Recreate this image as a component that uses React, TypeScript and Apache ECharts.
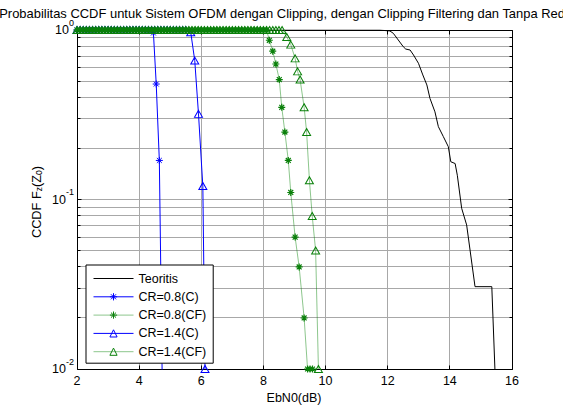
import React, { useEffect, useRef } from "react";
import * as echarts from "echarts";

const FONT = '"Liberation Sans", Arial, Helvetica, sans-serif';

// x values of the flat (CCDF = 1) part shared by the simulated curves
const topGrid = [
  2.0, 2.1, 2.2, 2.3, 2.4, 2.5, 2.6, 2.7, 2.8, 2.9,
  3.0, 3.1, 3.2, 3.3, 3.4, 3.5, 3.6, 3.7, 3.8, 3.9,
  4.0, 4.1, 4.2, 4.3, 4.4, 4.5, 4.6, 4.7, 4.8, 4.9,
  5.0, 5.1, 5.2, 5.3, 5.4, 5.5, 5.6, 5.7, 5.8, 5.9,
  6.0, 6.1, 6.2, 6.3, 6.4, 6.5, 6.6, 6.7, 6.8, 6.9,
  7.0, 7.1, 7.2, 7.3, 7.4, 7.5, 7.6, 7.7, 7.8, 7.9,
  8.0, 8.1, 8.2, 8.3, 8.4, 8.5, 8.6,
];

const seriesNames = ["Teoritis", "CR=0.8(C)", "CR=0.8(CF)", "CR=1.4(C)", "CR=1.4(CF)"];

const teoritis: [number, number][] = [
  [2, 1], [11.75, 1], [11.85, 0.995], [12.07, 0.987], [12.18, 0.956], [12.34, 0.873],
  [12.5, 0.797], [12.58, 0.772], [12.72, 0.762], [12.83, 0.712], [12.99, 0.636],
  [13.13, 0.543], [13.26, 0.474], [13.36, 0.395], [13.52, 0.329], [13.63, 0.269],
  [13.79, 0.235], [13.95, 0.205], [14.03, 0.167], [14.17, 0.163], [14.24, 0.139],
  [14.38, 0.0887], [14.54, 0.0708], [14.81, 0.0306], [15.35, 0.0306], [15.45, 0.01],
];

const cr08cFlatEnd = 4.4;
const cr08cDrop: [number, number][] = [[4.46, 0.96], [4.55, 0.48], [4.65, 0.17], [4.76, 0.005]];

const cr08cfFlatEnd = 8.1;
const cr08cfDrop: [number, number][] = [
  [8.19, 0.87], [8.3, 0.75], [8.4, 0.63], [8.51, 0.51], [8.59, 0.35], [8.69, 0.25],
  [8.8, 0.17], [8.88, 0.11], [9.02, 0.06], [9.15, 0.04], [9.31, 0.02], [9.42, 0.01],
  [9.5, 0.01], [9.58, 0.01],
];

const cr14cFlatEnd = 5.5;
const cr14cDrop: [number, number][] = [[5.66, 0.97], [5.79, 0.66], [5.91, 0.32], [6.05, 0.12], [6.12, 0.01]];

const cr14cfFlatEnd = 8.6;
const cr14cfDrop: [number, number][] = [
  [8.75, 0.91], [8.88, 0.82], [9.02, 0.68], [9.1, 0.57], [9.18, 0.51], [9.31, 0.35],
  [9.39, 0.25], [9.48, 0.13], [9.57, 0.08], [9.68, 0.05], [9.77, 0.01],
];

const xTicks = [2, 4, 6, 8, 10, 12, 14, 16];
const xGridLines = [4, 6, 8, 10, 12, 14];
const yMajor = [0.01, 0.1, 1];
const yMinor = [0.02, 0.03, 0.04, 0.05, 0.06, 0.07, 0.08, 0.09, 0.2, 0.3, 0.4, 0.5, 0.6, 0.7, 0.8, 0.9];

const titleText = "Probabilitas CCDF untuk Sistem OFDM dengan Clipping, dengan Clipping Filtering dan Tanpa Reduksi";

const withFlat = (end: number, drop: [number, number][]) =>
  [...topGrid.filter((x) => x <= end + 1e-9).map((x) => [x, 1]), ...drop];

const STAR = "path://M4,0L4,8M0,4L8,4M1.2,1.2L6.8,6.8M1.2,6.8L6.8,1.2";

export default function App() {
  const ref = useRef<HTMLDivElement>(null);
  useEffect(() => {
    document.body.style.margin = "0";
    const chart = echarts.init(ref.current!, null, { renderer: "svg" });
    const crisp = (v: number) => Math.round(v - 0.5) + 0.5;
    const gridColor = "#a8a8a8";
    const hollow = (c: string) => ({ color: "transparent", borderColor: c, borderWidth: 1 });

    const option: any = {
      animation: false,
      backgroundColor: "#fff",
      textStyle: { fontFamily: FONT },
      grid: { left: 77, right: 51, top: 30, bottom: 39, outerBoundsMode: "none", containLabel: false },
      legend: {
        data: [
          { name: seriesNames[0], itemStyle: { opacity: 0 } },
          { name: seriesNames[1], itemStyle: hollow("#0000ff") },
          { name: seriesNames[2], itemStyle: hollow("#0a800a") },
          { name: seriesNames[3], itemStyle: hollow("#0000ff") },
          { name: seriesNames[4], itemStyle: hollow("#0a800a") },
        ],
        orient: "vertical",
        left: 86,
        top: 265,
        itemWidth: 40,
        itemHeight: 9,
        itemGap: 5.3,
        padding: [7, 7, 5, 7],
        lineStyle: { width: 1 },
        backgroundColor: "#fff",
        borderColor: "#000",
        borderWidth: 1,
        borderRadius: 0,
        selectedMode: false,
        textStyle: { fontSize: 12.5, color: "#000", fontFamily: FONT },
        z: 10,
      },
      xAxis: {
        type: "value",
        min: 2,
        max: 16,
        interval: 2,
        axisLine: { show: false },
        axisTick: { show: false },
        splitLine: { show: false },
        axisLabel: { color: "#000", fontSize: 12.5, fontFamily: FONT, margin: 5 },
      },
      yAxis: {
        type: "log",
        logBase: 10,
        min: 0.01,
        max: 1,
        axisLine: { show: false },
        axisTick: { show: false },
        splitLine: { show: false },
        axisLabel: {
          margin: 3,
          formatter: (v: number) => `{b|10}{s|${Math.round(Math.log10(v))}}`,
          rich: {
            b: { fontSize: 12.5, lineHeight: 13, color: "#000", fontFamily: FONT },
            s: { fontSize: 9, lineHeight: 9, padding: [0, 0, 15, 0], color: "#000", fontFamily: FONT },
          },
        },
      },
      graphic: [
        {
          type: "text",
          x: 293.6,
          y: 13,
          style: { text: titleText, fontSize: 12.95, fontFamily: FONT, fill: "#000", align: "center", verticalAlign: "middle" },
        },
        {
          type: "text",
          x: 294,
          y: 398,
          style: { text: "EbN0(dB)", fontSize: 12.5, fontFamily: FONT, fill: "#000", align: "center", verticalAlign: "middle" },
        },
        {
          type: "text",
          x: 36,
          y: 202,
          rotation: Math.PI / 2,
          style: {
            text: "{n|CCDF F}{s|z}{n|(Z}{s|0}{n|)}",
            align: "center",
            verticalAlign: "middle",
            rich: {
              n: { fontSize: 12.8, lineHeight: 14, fill: "#000", fontFamily: FONT },
              s: { fontSize: 8.5, lineHeight: 8, padding: [6, 0, 0, 0], fill: "#000", fontFamily: FONT },
            },
          },
        },
      ],
      series: [
        {
          type: "custom",
          silent: true,
          z: 1,
          data: [[2, 1]],
          renderItem: (params: any, api: any) => {
            const cs = params.coordSys;
            const L = crisp(cs.x), T = crisp(cs.y), R = crisp(cs.x + cs.width), B = crisp(cs.y + cs.height);
            const ch: any[] = [];
            for (const v of [...yMinor, 0.1]) {
              const y = crisp(api.coord([2, v])[1]);
              ch.push({ type: "line", shape: { x1: L, y1: y, x2: R, y2: y }, style: { stroke: gridColor, lineWidth: 1 } });
            }
            for (const v of xGridLines) {
              const x = crisp(api.coord([v, 1])[0]);
              ch.push({ type: "line", shape: { x1: x, y1: T, x2: x, y2: B }, style: { stroke: gridColor, lineWidth: 1 } });
            }
            for (const v of xTicks) {
              const x = crisp(api.coord([v, 1])[0]);
              ch.push({ type: "line", shape: { x1: x, y1: B, x2: x, y2: B - 4 }, style: { stroke: "#000", lineWidth: 1 } });
              ch.push({ type: "line", shape: { x1: x, y1: T, x2: x, y2: T + 4 }, style: { stroke: "#000", lineWidth: 1 } });
            }
            for (const v of [...yMajor, ...yMinor]) {
              const y = crisp(api.coord([2, v])[1]);
              const len = yMajor.includes(v) ? 4 : 3;
              ch.push({ type: "line", shape: { x1: L, y1: y, x2: L + len, y2: y }, style: { stroke: "#000", lineWidth: 1 } });
              ch.push({ type: "line", shape: { x1: R, y1: y, x2: R - len, y2: y }, style: { stroke: "#000", lineWidth: 1 } });
            }
            ch.push({ type: "rect", shape: { x: L, y: T, width: R - L, height: B - T }, style: { fill: "none", stroke: "#000", lineWidth: 1 } });
            return { type: "group", children: ch };
          },
        },
        {
          name: seriesNames[0],
          type: "line",
          z: 2,
          data: teoritis,
          symbol: "none",
          lineStyle: { color: "#000", width: 1 },
          itemStyle: { color: "#000" },
        },
        {
          name: seriesNames[1],
          type: "line",
          z: 3,
          data: withFlat(cr08cFlatEnd, cr08cDrop),
          symbol: STAR,
          symbolSize: 7,
          lineStyle: { color: "#0000ff", width: 1 },
          itemStyle: hollow("#0000ff"),
        },
        {
          name: seriesNames[2],
          type: "line",
          z: 4,
          data: withFlat(cr08cfFlatEnd, cr08cfDrop),
          symbol: STAR,
          symbolSize: 7,
          lineStyle: { color: "#008000", width: 1, opacity: 0.45 },
          itemStyle: { color: "transparent", borderColor: "#0a800a", borderWidth: 1.2 },
        },
        {
          name: seriesNames[3],
          type: "line",
          z: 3,
          data: withFlat(cr14cFlatEnd, cr14cDrop),
          symbol: "triangle",
          symbolSize: [8, 7],
          lineStyle: { color: "#0000ff", width: 1 },
          itemStyle: hollow("#0000ff"),
        },
        {
          name: seriesNames[4],
          type: "line",
          z: 4,
          data: withFlat(cr14cfFlatEnd, cr14cfDrop),
          symbol: "triangle",
          symbolSize: [8, 7],
          lineStyle: { color: "#008000", width: 1, opacity: 0.45 },
          itemStyle: hollow("#0a800a"),
        },
      ],
    };
    chart.setOption(option);
    return () => chart.dispose();
  }, []);
  return <div ref={ref} style={{ width: 563, height: 408 }} />;
}
